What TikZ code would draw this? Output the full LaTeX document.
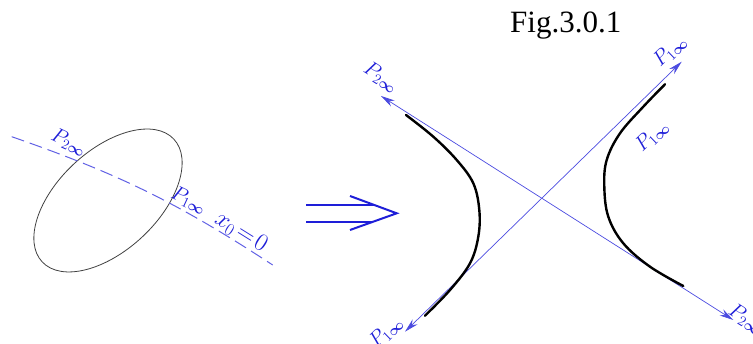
\documentclass[tikz,border=0pt]{standalone}
\usepackage{fontspec}
\setmainfont{Liberation Serif}
\usepackage{bm}
\usepackage{tikz}
\usetikzlibrary{arrows.meta}
\definecolor{cad}{HTML}{1E1ED8}
\tikzset{
  % the two conics
  conic/.style={draw=black!75, line width=0.8pt},
  branch/.style={draw=black, line width=2.4pt, line cap=round},
  % polar line and asymptotes
  polar/.style={draw=cad!70, line width=1pt, dash pattern=on 13pt off 6pt},
  asym/.style={{Stealth[length=14pt,width=7pt]}-{Stealth[length=14pt,width=7pt]}, draw=cad!80, line width=0.7pt},
  maps/.style={draw=cad, line width=2pt},
  lbl/.style={text=cad, font=\fontsize{22}{26}\selectfont, inner sep=0pt},
  title/.style={font=\fontsize{31}{36}\selectfont, inner sep=0pt},
}
\newcommand{\Pinf}[1]{$P_{#1\bm{\infty}}$}

\begin{document}
\begin{tikzpicture}[x=1pt, y=1pt]
  \useasboundingbox (0,0) rectangle (753,344);

  \node[title, anchor=base west] (fig) at (510,311) {Fig.3.0.1};

  % ellipse cut by x0=0
  \coordinate (ec) at (108,143.5);
  \draw[conic, rotate around={43:(ec)}] (ec) ellipse [x radius=90, y radius=50];
  \coordinate (xa) at (11.7,207.3);
  \coordinate (xb) at (272.7,79);
  \draw[polar] (xa) to[bend left=7] (xb);
  \node[lbl, rotate=-25] (p2l) at (69,202) {\Pinf{2}};
  \node[lbl, rotate=-25] (p1l) at (189,144) {\Pinf{1}};
  \node[lbl, rotate=-32, font=\fontsize{24}{28}\selectfont] (x0) at (241,112) {$x_0\!=\!0$};

  % maps to
  \coordinate (ua)  at (306,139);
  \coordinate (la)  at (306,122.3);
  \coordinate (tip) at (396.7,130.7);
  \draw[maps] (ua) -- (374.3,139) (la) -- (373.2,122.3);
  \draw[maps] (350,148) -- (tip) -- (350,114);

  % hyperbola with its asymptotes
  \coordinate (a1) at (405,12.3);
  \coordinate (b1) at (681.7,282.3);
  \coordinate (a2) at (381,248);
  \coordinate (b2) at (733.3,24);
  \draw[asym] (a1) -- (b1);
  \draw[asym] (a2) -- (b2);
  \draw[branch] plot[smooth, tension=0.6] coordinates {(406,229) (433.3,207.3)
    (456.7,184) (473.3,160.7) (479.3,134) (478.3,107.3) (470,80.7) (450,54) (425,28.3)};
  \draw[branch] plot[smooth, tension=0.6] coordinates {(665,259.7) (643.3,237.3)
    (620,210.7) (606.7,184) (604.3,157.3) (608.3,127.3) (623.3,100.7) (650,77.3) (683.3,58)};

  \node[lbl, rotate=-32.5] (p2a) at (381,267) {\Pinf{2}};
  \node[lbl, rotate=-32.5] (p2b) at (746,25)  {\Pinf{2}};
  \node[lbl, rotate=44] (p1a) at (670,293) {\Pinf{1}};
  \node[lbl, rotate=44] (p1b) at (652,208) {\Pinf{1}};
  \node[lbl, rotate=44] (p1c) at (386,12)  {\Pinf{1}};
\end{tikzpicture}
\end{document}
